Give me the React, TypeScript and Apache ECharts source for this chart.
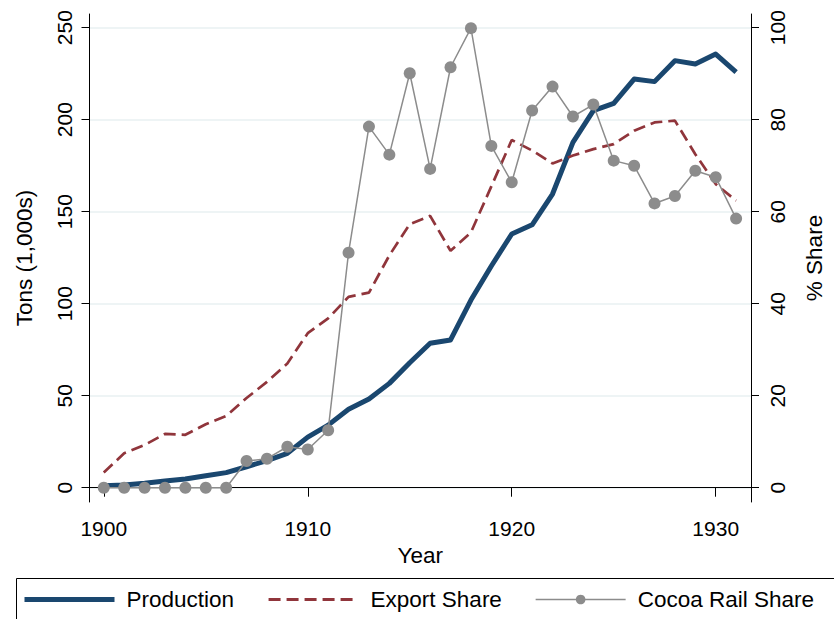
import React, { useEffect, useRef } from 'react';
import * as echarts from 'echarts';

const years = [
  1900, 1901, 1902, 1903, 1904, 1905, 1906, 1907, 1908, 1909,
  1910, 1911, 1912, 1913, 1914, 1915, 1916, 1917, 1918, 1919,
  1920, 1921, 1922, 1923, 1924, 1925, 1926, 1927, 1928, 1929,
  1930, 1931,
];

// Tons (1,000s), left axis
const production = [
  1.1, 1.5, 2.4, 3.6, 4.7, 6.5, 8.2, 11.4, 14.7, 18.7,
  27.5, 34.0, 42.6, 48.2, 56.7, 67.9, 78.5, 80.3, 102.0, 120.5,
  137.9, 142.9, 159.6, 187.7, 204.9, 208.9, 222.1, 220.7, 232.1, 230.3,
  235.7, 225.8,
];

// % share, right axis
const exportShare = [
  3.3, 7.5, 9.3, 11.7, 11.5, 13.8, 15.6, 19.5, 23.0, 27.0,
  33.6, 36.8, 41.5, 42.4, 50.5, 57.3, 59.1, 51.5, 55.5, 65.5,
  75.6, 73.3, 70.5, 72.2, 73.6, 74.7, 77.6, 79.4, 79.8, 72.5,
  66.0, 62.4,
];

// % share, right axis
const railShare = [
  0, 0, 0, 0, 0, 0, 0, 5.8, 6.3, 8.9,
  8.3, 12.5, 51.1, 78.5, 72.4, 90.1, 69.3, 91.4, 99.9, 74.3,
  66.4, 82.0, 87.2, 80.7, 83.3, 71.1, 70.0, 61.8, 63.4, 68.9,
  67.5, 58.5,
];

const xTicks = [1900, 1910, 1920, 1930];
const leftTicks = [0, 50, 100, 150, 200, 250];
const rightTicks = [0, 20, 40, 60, 80, 100];

const FONT = '"Liberation Sans", Arial, Helvetica, sans-serif';
const BLUE = '#1a476f';
const RED = '#90353b';
const GRAY = '#8c8c8c';
const GRID = '#e9f0f2';

export default function App() {
  const ref = useRef<HTMLDivElement>(null);

  useEffect(() => {
    if (!ref.current) return;
    const chart = echarts.init(ref.current, null, { renderer: 'svg' });
    const pair = (vals: number[]) => years.map((y, i) => [y, vals[i]]);
    const plain = (v: number) => String(v);
    const leftMin = -7.77;
    const leftMax = 257.45;

    chart.setOption({
      animation: false,
      backgroundColor: '#ffffff',
      grid: { left: 89.5, right: 74, top: 14, bottom: 117 },
      xAxis: {
        type: 'value',
        min: 1899.3,
        max: 1931.73,
        name: 'Year',
        nameLocation: 'middle',
        nameGap: 35,
        nameTextStyle: { fontSize: 22.5, color: '#000', fontFamily: FONT },
        axisLine: { show: true, lineStyle: { color: '#000', width: 1 } },
        axisTick: { show: true, customValues: xTicks, length: 9, lineStyle: { color: '#000', width: 1 } },
        axisLabel: { customValues: xTicks, formatter: plain, margin: 16, fontSize: 21, color: '#000', fontFamily: FONT },
        splitLine: { show: false },
      },
      yAxis: [
        {
          type: 'value',
          position: 'left',
          min: leftMin,
          max: leftMax,
          name: 'Tons (1,000s)',
          nameLocation: 'middle',
          nameGap: 54,
          nameTextStyle: { fontSize: 22.5, color: '#000', fontFamily: FONT },
          axisLine: { show: true, lineStyle: { color: '#000', width: 1 } },
          axisTick: { show: true, customValues: leftTicks, length: 8, lineStyle: { color: '#000', width: 1 } },
          axisLabel: { customValues: leftTicks, formatter: plain, rotate: 90, margin: 15, fontSize: 21, color: '#000', fontFamily: FONT },
          splitLine: { show: true, lineStyle: { color: GRID, width: 1.5 } },
        },
        {
          type: 'value',
          position: 'right',
          min: leftMin * 0.4,
          max: leftMax * 0.4,
          name: '% Share',
          nameLocation: 'middle',
          nameGap: 52,
          nameTextStyle: { fontSize: 22.5, color: '#000', fontFamily: FONT },
          axisLine: { show: true, lineStyle: { color: '#000', width: 1 } },
          axisTick: { show: true, customValues: rightTicks, length: 8, lineStyle: { color: '#000', width: 1 } },
          axisLabel: { customValues: rightTicks, formatter: plain, rotate: 90, margin: 16, fontSize: 21, color: '#000', fontFamily: FONT },
          splitLine: { show: false },
        },
      ],
      legend: {
        left: 22,
        top: 588,
        padding: 0,
        itemGap: 33,
        itemWidth: 90,
        itemHeight: 12,
        selectedMode: false,
        textStyle: { fontSize: 22.5, color: '#000', fontFamily: FONT, padding: [0, 0, 0, 7] },
        data: [
          { name: 'Production', lineStyle: { width: 5 }, itemStyle: { opacity: 0 } },
          { name: 'Export Share', lineStyle: { width: 3 }, itemStyle: { opacity: 0 } },
          { name: 'Cocoa Rail Share', lineStyle: { width: 1.5 } },
        ],
      },
      graphic: [
        {
          type: 'rect',
          left: 14,
          top: 576,
          silent: true,
          shape: { x: 0, y: 0, width: 840, height: 42 },
          style: { fill: 'none', stroke: '#000', lineWidth: 1 },
        },
      ],
      series: [
        {
          name: 'Production',
          type: 'line',
          yAxisIndex: 0,
          data: pair(production),
          symbol: 'none',
          lineStyle: { color: BLUE, width: 5, join: 'round' },
          itemStyle: { color: BLUE },
        },
        {
          name: 'Export Share',
          type: 'line',
          yAxisIndex: 1,
          data: pair(exportShare),
          symbol: 'none',
          lineStyle: { color: RED, width: 2.7, type: [12, 6] },
          itemStyle: { color: RED },
        },
        {
          name: 'Cocoa Rail Share',
          type: 'line',
          yAxisIndex: 1,
          data: pair(railShare),
          symbol: 'circle',
          symbolSize: 12,
          lineStyle: { color: GRAY, width: 1.5 },
          itemStyle: { color: GRAY },
        },
      ],
    });

    return () => chart.dispose();
  }, []);

  return (
    <div
      ref={ref}
      style={{ position: 'fixed', left: 0, top: 0, width: 834, height: 619 }}
    />
  );
}
